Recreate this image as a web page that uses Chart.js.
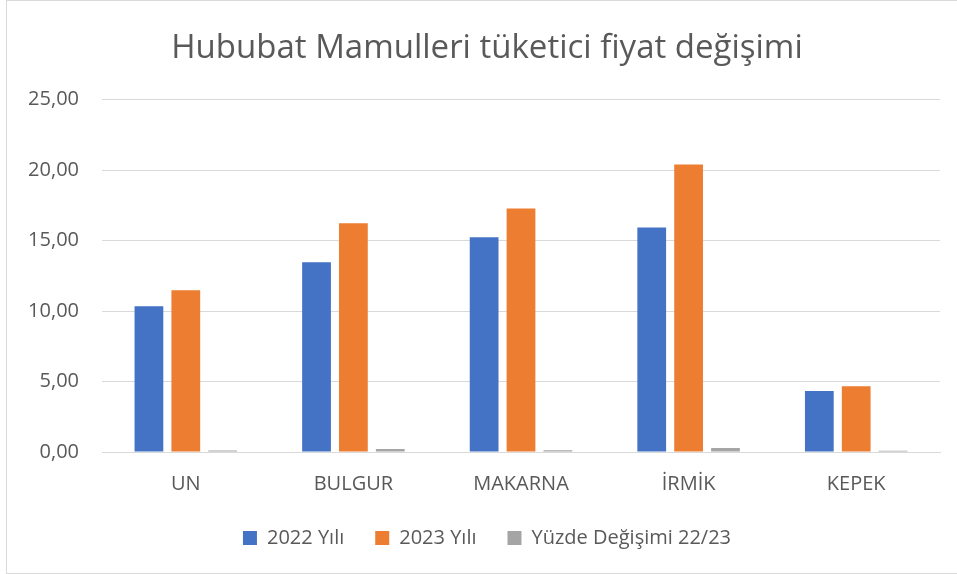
<!DOCTYPE html>
<html>
<head>
<meta charset="utf-8">
<script src="https://cdn.jsdelivr.net/npm/chart.js@4"></script>
<style>
  html, body { margin: 0; padding: 0; background: #fff; overflow: hidden; }
  #frame {
    position: absolute; left: 6px; top: 0;
    width: 958px; height: 572px;
    border: 1px solid #d9d9d9;
    border-right: none;
  }
  #wrap { position: absolute; left: 1px; top: 0; width: 958px; height: 572px; }
</style>
</head>
<body>
<div id="frame"><div id="wrap"><canvas id="chart"></canvas></div></div>
<script>
// kategoriler ve seriler
const categories = ['UN', 'BULGUR', 'MAKARNA', 'İRMİK', 'KEPEK'];
const values2022 = [10.34, 13.46, 15.23, 15.93, 4.32];
const values2023 = [11.47, 16.22, 17.28, 20.40, 4.67];
const percentChange = [0.11, 0.21, 0.13, 0.28, 0.08];
const seriesNames = ['2022 Yılı', '2023 Yılı', 'Yüzde Değişimi 22/23'];
const yTicks = [0, 5, 10, 15, 20, 25];

const textColor = '#595959';
const fontFamily = "'Open Sans', 'Noto Sans', sans-serif";

function createChart() {
  const ctx = document.getElementById('chart').getContext('2d');

  const barOpts = {
    barPercentage: 0.78,
    categoryPercentage: 0.66
  };

  return new Chart(ctx, {
    type: 'bar',
    data: {
      labels: categories,
      datasets: [
        Object.assign({ label: seriesNames[0], data: values2022, backgroundColor: '#4472c4' }, barOpts),
        Object.assign({ label: seriesNames[1], data: values2023, backgroundColor: '#ed7d31' }, barOpts),
        Object.assign({ label: seriesNames[2], data: percentChange, backgroundColor: '#a5a5a5' }, barOpts)
      ]
    },
    options: {
      responsive: true,
      maintainAspectRatio: false,
      animation: false,
      layout: {
        padding: { left: 0, right: 0, top: 0, bottom: 15 }
      },
      scales: {
        x: {
          afterFit: function (scale) { scale.height = 45; },
          grid: { display: false, drawTicks: false },
          border: { color: '#d9d9d9' },
          ticks: {
            color: textColor,
            padding: 20,
            font: { family: fontFamily, size: 20 }
          }
        },
        y: {
          min: 0,
          max: 25,
          afterFit: function (scale) { scale.width = 94; },
          afterBuildTicks: function (scale) {
            scale.ticks = yTicks.map(v => ({ value: v }));
          },
          border: { display: false },
          grid: { color: '#d9d9d9', drawTicks: false },
          ticks: {
            color: textColor,
            padding: 23,
            font: { family: fontFamily, size: 20 },
            callback: function (value) {
              return value.toFixed(2).replace('.', ',');
            }
          }
        },
        // sağ boşluk için boş eksen
        yRight: {
          position: 'right',
          afterFit: function (scale) { scale.width = 26; },
          border: { display: false },
          grid: { drawOnChartArea: false, drawTicks: false },
          ticks: { display: false }
        }
      },
      plugins: {
        title: {
          display: true,
          text: 'Hububat Mamulleri tüketici fiyat değişimi',
          color: textColor,
          font: { family: fontFamily, size: 33, weight: 'normal' },
          padding: { top: 28, bottom: 31 }
        },
        legend: {
          position: 'bottom',
          labels: {
            color: textColor,
            boxWidth: 14,
            boxHeight: 14,
            padding: 31,
            font: { family: fontFamily, size: 20 }
          }
        },
        tooltip: { enabled: false }
      }
    }
  });
}

document.addEventListener('DOMContentLoaded', () => {
  createChart();
});
</script>
</body>
</html>
